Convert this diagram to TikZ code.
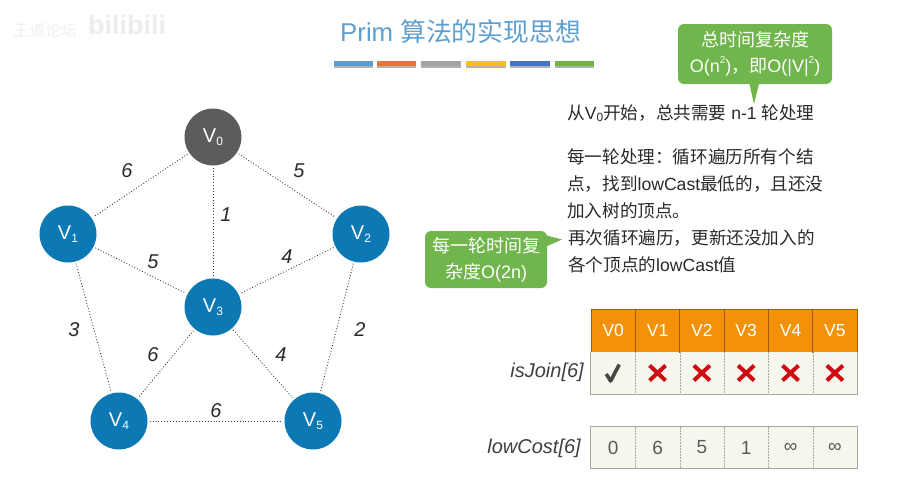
\documentclass[tikz,border=0pt]{standalone}
\usepackage{fontspec}
\setmainfont{Liberation Sans}
\newfontfamily\cjk{Noto Sans CJK SC}
\newcommand{\lowtxt}[1]{\raisebox{-0.12em}{\fontsize{12}{12}\selectfont #1}}
\newcommand{\uptxt}[1]{\raisebox{0.5em}{\fontsize{10}{10}\selectfont #1}}
\definecolor{titleblue}{HTML}{5F9FD0}
\definecolor{vblue}{HTML}{0C78B4}
\definecolor{vgray}{HTML}{5C5C5C}
\definecolor{callgreen}{HTML}{70B64C}
\definecolor{headorange}{HTML}{F39208}
\definecolor{cellbg}{HTML}{F7F6EC}
\definecolor{cellline}{HTML}{A8A8A0}
\definecolor{txt}{HTML}{2A2A2A}
\definecolor{crossred}{HTML}{CE0A14}
\tikzset{
  vert/.style={circle,fill=vblue,text=white,minimum size=57pt,inner sep=0pt,font=\fontsize{20}{20}\selectfont},
  vertdone/.style={vert,fill=vgray},
  edgeline/.style={dotted,line width=0.9pt,draw=black!75,shorten >=2pt,shorten <=2pt},
  weight/.style={font=\itshape\fontsize{20}{20}\selectfont,text=txt,inner sep=0pt},
  para/.style={anchor=base west,inner sep=0pt,text=txt,font=\fontsize{17.6}{20}\selectfont},
  callbox/.style={fill=callgreen,rounded corners=6pt,text=white,align=center,inner sep=0pt,font=\fontsize{18}{26}\selectfont},
  bar/.style={minimum height=5pt,inner sep=0pt},
  headcell/.style={minimum width=44.33pt,minimum height=43pt,inner sep=0pt,fill=headorange,text=white,draw=black!35!headorange,line width=0.5pt,font=\fontsize{17.5}{20}\selectfont},
  bodycell/.style={minimum width=44.33pt,inner sep=0pt,fill=cellbg,text=black!65,font=\fontsize{19}{20}\selectfont},
  arrlabel/.style={anchor=east,inner sep=0pt,text=black!75,font=\itshape\fontsize{20}{20}\selectfont},
  crossmark/.style={draw=crossred,line width=4pt},
  checkmark/.style={draw=black!72,line width=3.6pt,line join=round}
}
\begin{document}
\begin{tikzpicture}[x=1pt,y=-1pt]
\useasboundingbox[fill=white] (0,0) rectangle (912,491);

% faint watermark
\node[inner sep=0pt,text=black!6,font=\fontsize{16}{16}\selectfont] (wm1) at (45,30) {\cjk 王道论坛};
\node[inner sep=0pt,text=black!7,font=\bfseries\fontsize{27}{27}\selectfont] (wm2) at (127,25) {bilibili};

% title
\node[inner sep=0pt,anchor=base west,text=titleblue,font=\fontsize{25.8}{30}\selectfont] (title) at (340,41) {Prim {\cjk 算法的实现思想}};
\foreach \xa/\xb/\c [count=\i] in {334/373/5B9BD0,377/416/E0773B,421/461/A3A3A3,466/506/F9C20E,510/550/4472C4,555/594/70B53F}{
  \definecolor{barcol}{HTML}{\c}
  \fill[black!30] (\xa,63) rectangle (\xb,67.5);
  \node[bar,fill=barcol,minimum width=\xb pt-\xa pt,anchor=north west] (bar\i) at (\xa,61) {};
}

% graph
\node[vertdone] (v0) at (213,137) {V\lowtxt{0}};
\node[vert] (v1) at (68,234) {V\lowtxt{1}};
\node[vert] (v2) at (361,234) {V\lowtxt{2}};
\node[vert] (v3) at (213,307) {V\lowtxt{3}};
\node[vert] (v4) at (119,421) {V\lowtxt{4}};
\node[vert] (v5) at (313,421) {V\lowtxt{5}};
\foreach \a/\b in {v0/v1,v0/v2,v0/v3,v1/v3,v2/v3,v1/v4,v2/v5,v3/v4,v3/v5,v4/v5}{
  \draw[edgeline] (\a) -- (\b);
}
\node[weight] (w01) at (127,171) {6};
\node[weight] (w02) at (299,171) {5};
\node[weight] (w03) at (226,215) {1};
\node[weight] (w13) at (153,262) {5};
\node[weight] (w23) at (287,257) {4};
\node[weight] (w14) at (74,330) {3};
\node[weight] (w25) at (360,330) {2};
\node[weight] (w34) at (153,355) {6};
\node[weight] (w35) at (281,355) {4};
\node[weight] (w45) at (216,411) {6};

% paragraphs
\node[para] (p1) at (567,119) {{\cjk 从}V\lowtxt{0}{\cjk 开始，总共需要} n-1 {\cjk 轮处理}};
\node[para] (p2a) at (567,163) {\cjk 每一轮处理：循环遍历所有个结};
\node[para] (p2b) at (567,190) {{\cjk 点，找到}lowCast{\cjk 最低的，且还没}};
\node[para] (p2c) at (567,217) {\cjk 加入树的顶点。};
\node[para] (p3a) at (568,244) {\cjk 再次循环遍历，更新还没加入的};
\node[para] (p3b) at (568,271) {{\cjk 各个顶点的}lowCast{\cjk 值}};

% callouts
\fill[callgreen] (749,82) -- (754,104) -- (759.5,82) -- cycle;
\node[callbox,minimum width=154pt,minimum height=60pt] (c1) at (755,54) {{\cjk 总时间复杂度}\\O(n\uptxt{2}){\cjk ，即}O(|V|\uptxt{2})};
\fill[callgreen] (545,235) -- (562,239.5) -- (545,247) -- cycle;
\node[callbox,minimum width=122pt,minimum height=57pt] (c2) at (486,259.5) {{\cjk 每一轮时间复}\\{\cjk 杂度}O(2n)};

% table
\foreach \t [count=\i from 0] in {V0,V1,V2,V3,V4,V5}{
  \pgfmathsetmacro{\cx}{613.2+44.33*\i}
  \node[headcell] (h\i) at (\cx,330.5) {\t};
  \node[bodycell,minimum height=42pt] (a\i) at (\cx,373) {};
}
\foreach \t [count=\i from 0] in {0,6,5,1,∞,∞}{
  \pgfmathsetmacro{\cx}{613.2+44.33*\i}
  \node[bodycell,minimum height=41pt] (b\i) at (\cx,447.5) {\t};
}
\foreach \i/\j in {0/1,1/2,2/3,3/4,4/5}{
  \draw[densely dotted,cellline,line width=0.5pt] (a\i.north east) -- (a\i.south east);
  \draw[densely dotted,cellline,line width=0.5pt] (b\i.north east) -- (b\i.south east);
}
\draw[cellline,line width=0.9pt] (a0.north west) -- (a0.south west) -- (a5.south east) -- (a5.north east);
\draw[cellline,line width=0.9pt] (b0.north west) rectangle (b5.south east);
% marks
\draw[checkmark] ([shift={(-7,1)}]a0.center) -- ([shift={(-2.5,8)}]a0.center) -- ([shift={(6,-8.5)}]a0.center);
\foreach \i in {1,...,5}{
  \draw[crossmark] ([shift={(-8,-7.5)}]a\i.center) -- ([shift={(8,7.5)}]a\i.center);
  \draw[crossmark] ([shift={(-8,7.5)}]a\i.center) -- ([shift={(8,-7.5)}]a\i.center);
}
\node[arrlabel] (l1) at (584,372) {isJoin[6]};
\node[arrlabel] (l2) at (581,448) {lowCost[6]};
\end{tikzpicture}
\end{document}
